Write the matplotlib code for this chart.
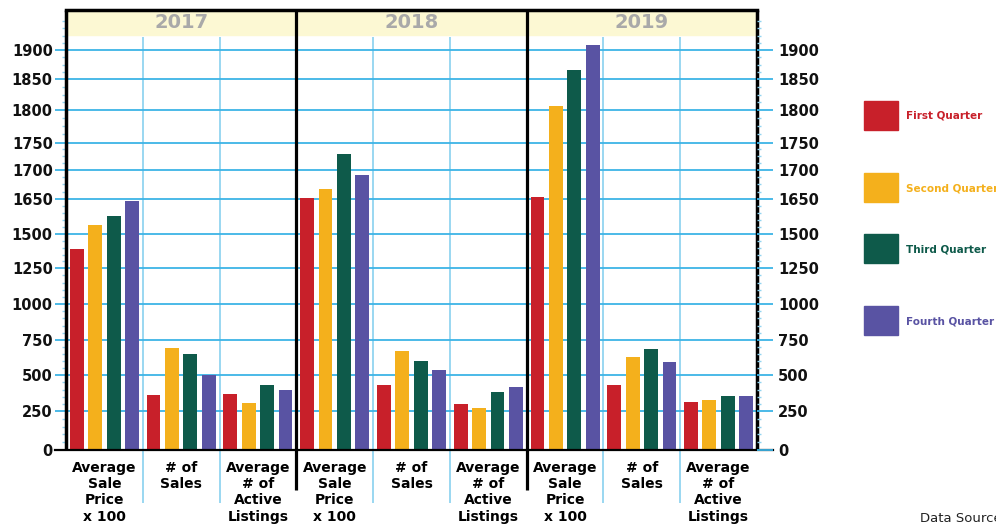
import numpy as np
import matplotlib
matplotlib.use("Agg")
from matplotlib import pyplot as plt
from matplotlib.patches import Rectangle
from matplotlib.ticker import FixedLocator

years = ['2017', '2018', '2019']
metrics = ['Average\nSale\nPrice\nx 100', '# of\nSales', 'Average\n# of\nActive\nListings']
quarters = ['First Quarter', 'Second Quarter', 'Third Quarter', 'Fourth Quarter']

# one value per (year, metric), in year order
q1 = [1392, 362, 369, 1652, 432, 299, 1654, 432, 313]
q2 = [1540, 691, 306, 1668, 670, 271, 1807, 628, 327]
q3 = [1578, 649, 432, 1729, 600, 383, 1866, 684, 355]
q4 = [1643, 502, 397, 1691, 537, 418, 1909, 593, 355]
series = [q1, q2, q3, q4]

yticks = [0, 250, 500, 750, 1000, 1250, 1500, 1650, 1700, 1750, 1800, 1850, 1900]

colors = ['#C8202A', '#F4B01C', '#0E5A4A', '#5953A3']
blue = '#3DB4E6'
light_blue = '#92D4F0'

# the source axis is broken: linear up to 1500, stretched above
scale_vals = [0, 250, 500, 750, 1000, 1250, 1500, 1650, 1700, 1750, 1800, 1850, 1900, 2000]
scale_pos = [-3.3, 35.7, 71.4, 106.7, 142.4, 178.4, 212.4, 247.4, 276.7, 304, 336.4, 367.4, 396.4, 454.4]

def fwd(v):
    return np.interp(v, scale_vals, scale_pos)

def inv(p):
    return np.interp(p, scale_pos, scale_vals)

W, H = 996, 529
fig = plt.figure(figsize=(W / 100, H / 100), dpi=100)
ax = fig.add_axes([66 / W, 1 - 450 / H, (757 - 66) / W, 440 / H])
ax2 = ax.twinx()

ymin, ymax = 0, 1969
for a in (ax, ax2):
    a.set_yscale('function', functions=(fwd, inv))
    a.set_ylim(ymin, ymax)
    a.yaxis.set_major_locator(FixedLocator(yticks))
    minor = list(range(50, 1500, 50)) + list(range(1530, 1650, 30)) + list(np.arange(1662.5, 1960, 12.5))
    a.yaxis.set_minor_locator(FixedLocator(minor))
    a.yaxis.set_minor_formatter(plt.NullFormatter())
    for s in a.spines.values():
        s.set_visible(False)

ax.set_xlim(0, 9)
ax.set_xticks([])

ncat = len(years) * len(metrics)
x = np.arange(ncat) + 0.5
offsets = [-0.36, -0.12, 0.12, 0.36]
for vals, off, c in zip(series, offsets, colors):
    ax.bar(x + off, vals, width=0.18, color=c, zorder=3)

ax.grid(axis='y', which='major', color=blue, lw=1.3, zorder=1)
ax.tick_params(axis='y', which='major', length=8, width=1.3, color=blue, pad=1.5,
               labelsize=10.5, labelcolor='#111111')
ax.tick_params(axis='y', which='minor', length=3, width=1, color=light_blue)
ax2.tick_params(axis='y', which='major', length=11.5, width=1.3, color=blue, pad=3.5,
                labelsize=10.5, labelcolor='#111111')
ax2.tick_params(axis='y', which='minor', length=3, width=1, color=light_blue)
for lab in ax.get_yticklabels() + ax2.get_yticklabels():
    lab.set_fontweight('bold')

xt = ax.get_xaxis_transform()
# header band
ax.add_patch(Rectangle((0, 0.943), 1, 0.057, transform=ax.transAxes, color='#FCF8D3', zorder=0))
for i, y in enumerate(years):
    ax.text(i * 3 + 1.5, 0.972, y, transform=xt, ha='center', va='center',
            fontsize=14, fontweight='bold', color='#A9A9A9')

# light blue category dividers
div = [k for k in range(1, ncat) if k % 3 != 0]
ax.vlines(div, -0.12, 0.9386, transform=xt, color=light_blue, lw=1.3, clip_on=False, zorder=1)
# black year dividers and frame
ax.vlines([3, 6], -0.091, 1, transform=xt, color='black', lw=2.3, clip_on=False, zorder=4)
ax.vlines([0, 9], 0, 1, transform=xt, color='black', lw=2.5, clip_on=False, zorder=4)
ax.plot([0, 1], [1, 1], transform=ax.transAxes, color='black', lw=2.5, clip_on=False, zorder=4)
ax.plot([-11 / 691, 1 + 16 / 691], [0, 0], transform=ax.transAxes, color='black', lw=1.6,
        clip_on=False, zorder=4)

for i in range(ncat):
    ax.text(x[i], -0.025, metrics[i % 3], transform=xt, ha='center', va='top',
            fontsize=10, fontweight='bold', linespacing=1.2)

# legend
leg_y = [101, 173, 234, 306]
for q, c, yy in zip(quarters, colors, leg_y):
    fig.add_artist(Rectangle((864 / W, 1 - (yy + 29) / H), 34 / W, 29 / H,
                             transform=fig.transFigure, color=c))
    fig.text(906 / W, 1 - (yy + 15) / H, q, color=c, fontsize=7.5, fontweight='bold', va='center')

fig.text(920 / W, 1 - 518 / H, 'Data Source:', fontsize=9.5, color='#222222', va='center')

fig.savefig('out.png', dpi=100)
